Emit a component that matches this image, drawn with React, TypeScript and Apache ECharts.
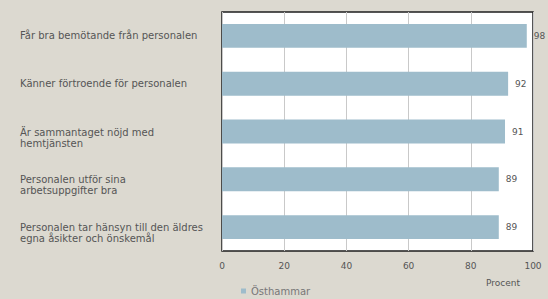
import React, { useEffect, useRef } from "react";
import * as echarts from "echarts";

const categories = [
  "Får bra bemötande från personalen",
  "Känner förtroende för personalen",
  "Är sammantaget nöjd med\nhemtjänsten",
  "Personalen utför sina\narbetsuppgifter bra",
  "Personalen tar hänsyn till den äldres\negna åsikter och önskemål",
];
const values = [98, 92, 91, 89, 89];
const seriesName = "Östhammar";
const axisTitle = "Procent";

export default function App() {
  const ref = useRef<HTMLDivElement>(null);
  useEffect(() => {
    if (!ref.current) return;
    const chart = echarts.init(ref.current, null, { renderer: "svg" });
    const font = "'DejaVu Sans', sans-serif";
    chart.setOption({
      animation: false,
      backgroundColor: "#dcd9d0",
      textStyle: { fontFamily: font },
      grid: {
        left: 222,
        right: 15,
        top: 12,
        bottom: 48,
        show: true,
        backgroundColor: "#ffffff",
        borderColor: "#1e1e1e",
        borderWidth: 1.5,
      },
      legend: {
        data: [seriesName],
        left: 236,
        top: 281,
        itemWidth: 5,
        itemHeight: 5,
        icon: "rect",
        itemGap: 4,
        textStyle: { color: "#777", fontSize: 10, fontFamily: font },
      },
      xAxis: {
        type: "value",
        min: 0,
        max: 100,
        interval: 20,
        axisLine: { show: false },
        axisTick: { show: false },
        splitLine: { show: true, lineStyle: { color: "#c9c9c9", width: 1 } },
        axisLabel: { color: "#555", fontSize: 9, margin: 10, fontFamily: font },
      },
      yAxis: {
        type: "category",
        data: categories,
        inverse: true,
        axisLine: { show: false },
        axisTick: { show: false },
        axisLabel: {
          align: "left",
          margin: 202,
          color: "#555",
          fontSize: 10,
          fontFamily: font,
          formatter: (v: string) => {
            const lines = v.split("\n");
            const body = lines.map((l) => `{a|${l}}`).join("\n");
            return lines.length > 1 ? `{s| }\n${body}` : body;
          },
          rich: {
            a: { fontSize: 10, lineHeight: 11, color: "#555", fontFamily: font },
            s: { fontSize: 1, lineHeight: 12 },
          },
        },
      },
      graphic: [
        {
          type: "text",
          left: 486,
          top: 278,
          style: { text: axisTitle, fill: "#555", fontSize: 9, fontFamily: font },
        },
      ],
      series: [
        {
          name: seriesName,
          type: "bar",
          data: values,
          barWidth: "50%",
          itemStyle: { color: "#9ebccb" },
          label: {
            show: true,
            position: "right",
            distance: 7,
            color: "#555",
            fontSize: 9,
            fontFamily: font,
          },
        },
      ],
    });
    return () => chart.dispose();
  }, []);
  return (
    <div
      ref={ref}
      style={{ position: "fixed", left: 0, top: 0, width: 548, height: 299 }}
    />
  );
}
